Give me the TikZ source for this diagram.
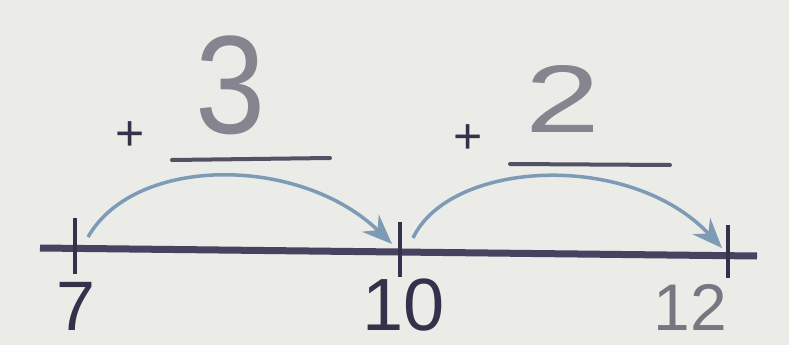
\documentclass[tikz,border=0pt]{standalone}
\usepackage{fontspec}
\setmainfont{Liberation Sans}
\usetikzlibrary{arrows.meta}
\definecolor{paper}{HTML}{EBEBE8}
\definecolor{ink}{HTML}{34324A}
\definecolor{pencil}{HTML}{85848F}
\definecolor{jump}{HTML}{7E9BB6}
\definecolor{axis}{HTML}{454360}
\begin{document}
\begin{tikzpicture}[x=1pt,y=-1pt,
  numline/.style={line width=7pt, draw=axis},
  tickmark/.style={line width=3.5pt, draw=ink},
  jumparc/.style={line width=3.5pt, draw=jump, -{Stealth[length=30pt,width=24pt,inset=10pt]}},
  blank/.style={line width=4pt, draw=ink!85, line cap=round},
  lbl/.style={inner sep=0pt, anchor=base},
]
\useasboundingbox (0,0) rectangle (789,345);
\fill[paper] (0,0) rectangle (789,345);

% number line
\coordinate (L) at (40,248);
\coordinate (R) at (757,256);
\draw[numline] (L) -- (R);

% ticks
\coordinate (t7a) at (75,218);  \coordinate (t7b) at (75,274);
\coordinate (t10a) at (400,222); \coordinate (t10b) at (400,277);
\coordinate (t12a) at (728,225); \coordinate (t12b) at (728,278);
\draw[tickmark] (t7a) -- (t7b);
\draw[tickmark] (t10a) -- (t10b);
\draw[tickmark] (t12a) -- (t12b);

% tick labels
\node[lbl, text=ink, font=\fontsize{70}{70}\selectfont] (n7) at (76,330) {7};
\node[lbl, text=ink, font=\fontsize{74}{74}\selectfont] (n10) at (404,330) {10};
\node[lbl, text=pencil!90!black, font=\fontsize{66}{66}\selectfont] (n12) at (690,330) {12};

% jumps
\coordinate (a1) at (88,237);
\coordinate (b1) at (392,244);
\draw[jumparc] (a1) .. controls (135,155) and (300,155) .. (b1);
\coordinate (a2) at (413,238);
\coordinate (b2) at (722,248);
\draw[jumparc] (a2) .. controls (450,160) and (630,150) .. (b2);

% first jump label
\node[inner sep=0pt, text=ink, font=\fontsize{50}{50}\selectfont] (p1) at (130,136) {+};
\coordinate (u1a) at (172,160); \coordinate (u1b) at (330,158);
\draw[blank] (u1a) -- (u1b);
\node[lbl, text=pencil, font=\fontsize{140}{140}\selectfont, xscale=0.9] (s3) at (231,133) {3};

% second jump label
\node[inner sep=0pt, text=ink, font=\fontsize{50}{50}\selectfont] (p2) at (468,139) {+};
\coordinate (u2a) at (510,164); \coordinate (u2b) at (670,165);
\draw[blank] (u2a) -- (u2b);
\node[lbl, text=pencil, font=\fontsize{96}{96}\selectfont, xscale=1.4] (s2) at (563,132) {2};
\end{tikzpicture}
\end{document}
